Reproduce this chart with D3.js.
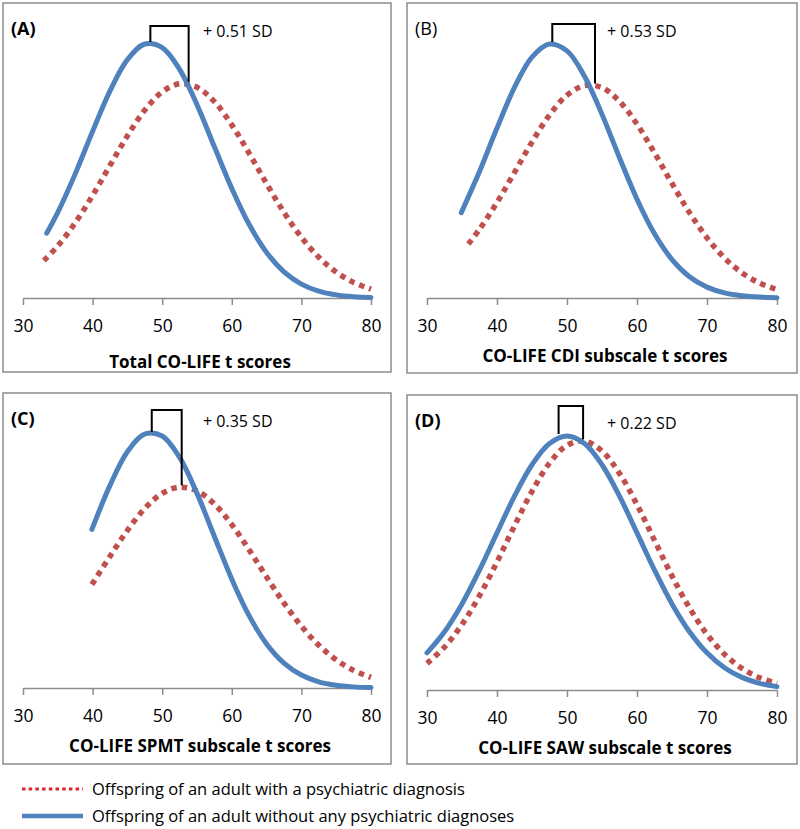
<!DOCTYPE html>
<html>
<head>
<meta charset="utf-8">
<script src="https://cdn.jsdelivr.net/npm/d3@7"></script>
<style>
body { margin: 0; background: #fff; }
text { font-family: "Open Sans", sans-serif; fill: #000; }
</style>
</head>
<body>
<div id="graphicContainer"></div>
<script>

// values (relative frequency, % per t-score unit)
var xTicks = [30, 40, 50, 60, 70, 80]
var panelLabels = ["(A)", "(B)", "(C)", "(D)"]
var axisTitles = ["Total CO-LIFE t scores", "CO-LIFE CDI subscale t scores", "CO-LIFE SPMT subscale t scores", "CO-LIFE SAW subscale t scores"]
var sdLabels = ["+ 0.51 SD", "+ 0.53 SD", "+ 0.35 SD", "+ 0.22 SD"]
var meanWithout = [48.3, 47.9, 48.5, 48.8]
var meanWith = [53.8, 54.0, 52.8, 52.3]
var legendLabels = ["Offspring of an adult with a psychiatric diagnosis", "Offspring of an adult without any psychiatric diagnoses"]

var withoutA = [[33.4,1.126],[35,1.488],[37.5,2.158],[40,2.897],[42.5,3.601],[45,4.145],[47.5,4.416],[50,4.355],[52.5,3.976],[55,3.360],[57.5,2.629],[60,1.904],[62.5,1.277],[65,0.793],[67.5,0.455],[70,0.242],[72.5,0.119],[75,0.054],[77.5,0.023],[80,0.009]]
var withA = [[33,0.650],[35,0.906],[37.5,1.306],[40,1.782],[42.5,2.304],[45,2.819],[47.5,3.267],[50,3.584],[52.5,3.724],[55,3.664],[57.5,3.413],[60,3.010],[62.5,2.514],[65,1.988],[67.5,1.488],[70,1.055],[72.5,0.708],[75,0.450],[77.5,0.271],[80,0.154]]

var withoutB = [[34.9,1.522],[37.5,2.255],[40,3.030],[42.5,3.756],[45,4.294],[47.5,4.529],[50,4.406],[52.5,3.955],[55,3.274],[57.5,2.501],[60,1.762],[62.5,1.145],[65,0.686],[67.5,0.379],[70,0.194],[72.5,0.091],[75,0.040],[77.5,0.016],[80,0.006]]
var withB = [[35.9,0.962],[37.5,1.225],[40,1.703],[42.5,2.239],[45,2.780],[47.5,3.262],[50,3.616],[52.5,3.788],[55,3.750],[57.5,3.507],[60,3.100],[62.5,2.588],[65,2.042],[67.5,1.522],[70,1.073],[72.5,0.714],[75,0.449],[77.5,0.267],[80,0.150]]

var withoutC = [[39.9,2.812],[42.5,3.593],[45,4.189],[47.5,4.504],[50,4.468],[52.5,4.089],[55,3.451],[57.5,2.687],[60,1.930],[62.5,1.279],[65,0.782],[67.5,0.441],[70,0.229],[72.5,0.110],[75,0.049],[77.5,0.020],[80,0.007]]
var withC = [[39.9,1.835],[42.5,2.334],[45,2.795],[47.5,3.184],[50,3.452],[52.5,3.561],[55,3.494],[57.5,3.262],[60,2.897],[62.5,2.448],[65,1.968],[67.5,1.505],[70,1.095],[72.5,0.758],[75,0.499],[77.5,0.313],[80,0.187]]

var withoutD = [[30,0.572],[32.5,0.898],[35,1.326],[37.5,1.846],[40,2.419],[42.5,2.985],[45,3.468],[47.5,3.795],[50,3.911],[52.5,3.795],[55,3.468],[57.5,2.985],[60,2.419],[62.5,1.846],[65,1.326],[67.5,0.898],[70,0.572],[72.5,0.343],[75,0.194],[77.5,0.103],[80,0.052]]
var withD = [[30,0.409],[32.5,0.661],[35,1.008],[37.5,1.452],[40,1.971],[42.5,2.528],[45,3.058],[47.5,3.493],[50,3.766],[52.5,3.831],[55,3.680],[57.5,3.335],[60,2.854],[62.5,2.304],[65,1.756],[67.5,1.264],[70,0.858],[72.5,0.550],[75,0.333],[77.5,0.190],[80,0.102]]

var withoutSeries = [withoutA, withoutB, withoutC, withoutD]
var withSeries = [withA, withB, withC, withD]

var blue = "#4f81bd"
var red = "#c0504d"

// panel frames
var panels = [
	{x: 3, y: 3, w: 388, h: 369, titleDy: 64, bold: true, bracket: 18},
	{x: 407, y: 3, w: 390, h: 370, titleDy: 58, bold: false, bracket: 20},
	{x: 3, y: 393, w: 388, h: 371, titleDy: 58, bold: true, bracket: 24},
	{x: 407, y: 395, w: 390, h: 369, titleDy: 58, bold: true, bracket: 30}
]

var svg = d3.select("#graphicContainer").append("svg")
	.attr("width", 800)
	.attr("height", 829)

panels.forEach(function(p, i) {

	var g = svg.append("g").attr("transform", "translate(" + p.x + "," + p.y + ")")

	g.append("rect")
		.attr("width", p.w)
		.attr("height", p.h)
		.attr("fill", "#fff")
		.attr("stroke", "#8c8c8c")
		.attr("stroke-width", 1.5)

	var axisY = 295
	var x = d3.scaleLinear()
		.domain([30, 80])
		.range([20, p.w - 20])

	var maxVal = d3.max(withoutSeries[i].concat(withSeries[i]), d => d[1])
	var y = d3.scaleLinear()
		.domain([0, maxVal])
		.range([axisY, axisY - 254])

	var xAxis = d3.axisBottom(x)
		.tickValues(xTicks)
		.tickSize(7)
		.tickSizeOuter(0)
		.tickPadding(15)

	var ax = g.append("g")
		.attr("transform", "translate(0," + axisY + ")")
		.call(xAxis)

	ax.select(".domain").attr("stroke", "#8c8c8c").attr("stroke-width", 1.5)
	ax.selectAll(".tick line").attr("stroke", "#8c8c8c").attr("stroke-width", 1.5)
	ax.selectAll(".tick text")
		.style("font-family", "'Open Sans', sans-serif")
		.style("font-size", "17.5px")
		.attr("fill", "#000")

	var line = d3.line()
		.x(d => x(d[0]))
		.y(d => y(d[1]))
		.curve(d3.curveCatmullRom)

	g.append("path")
		.datum(withSeries[i])
		.attr("d", line)
		.attr("fill", "none")
		.attr("stroke", red)
		.attr("stroke-width", 5.5)
		.attr("stroke-dasharray", "5.5 5")

	g.append("path")
		.datum(withoutSeries[i])
		.attr("d", line)
		.attr("fill", "none")
		.attr("stroke", blue)
		.attr("stroke-width", 5)
		.attr("stroke-linecap", "round")

	// bracket between the two peaks
	var topY = y(d3.max(withoutSeries[i], d => d[1])) - p.bracket
	var bx1 = x(meanWithout[i])
	var bx2 = x(meanWith[i])
	var by1 = y(d3.max(withoutSeries[i], d => d[1])) - 2
	var by2 = y(d3.max(withSeries[i], d => d[1])) - 2

	g.append("path")
		.attr("d", "M" + bx1 + "," + by1 + "V" + topY + "H" + bx2 + "V" + by2)
		.attr("fill", "none")
		.attr("stroke", "#000")
		.attr("stroke-width", 2)

	g.append("text")
		.attr("x", 200)
		.attr("y", 34)
		.style("font-size", "16px")
		.text(sdLabels[i])

	g.append("text")
		.attr("x", 8)
		.attr("y", 32)
		.style("font-size", "18px")
		.style("font-weight", p.bold ? "bold" : "normal")
		.text(panelLabels[i])

	g.append("text")
		.attr("x", p.w / 2 + 3)
		.attr("y", axisY + p.titleDy + 6)
		.attr("text-anchor", "middle")
		.style("font-size", "17px")
		.style("font-weight", "bold")
		.text(axisTitles[i])
})

// legend
var legend = svg.append("g").attr("transform", "translate(22,789)")

legend.append("line")
	.attr("x1", 0).attr("x2", 61)
	.attr("y1", 0).attr("y2", 0)
	.attr("stroke", "#d9262b")
	.attr("stroke-width", 3)
	.attr("stroke-dasharray", "3.5 3.2")

legend.append("line")
	.attr("x1", 0).attr("x2", 61)
	.attr("y1", 27).attr("y2", 27)
	.attr("stroke", blue)
	.attr("stroke-width", 4.5)

legend.selectAll("text.leg")
	.data(legendLabels)
	.enter()
	.append("text")
	.attr("class", "leg")
	.attr("x", 70)
	.attr("y", (d, i) => i * 27 + 6)
	.style("font-size", "16.5px")
	.text(d => d)

</script>
</body>
</html>
